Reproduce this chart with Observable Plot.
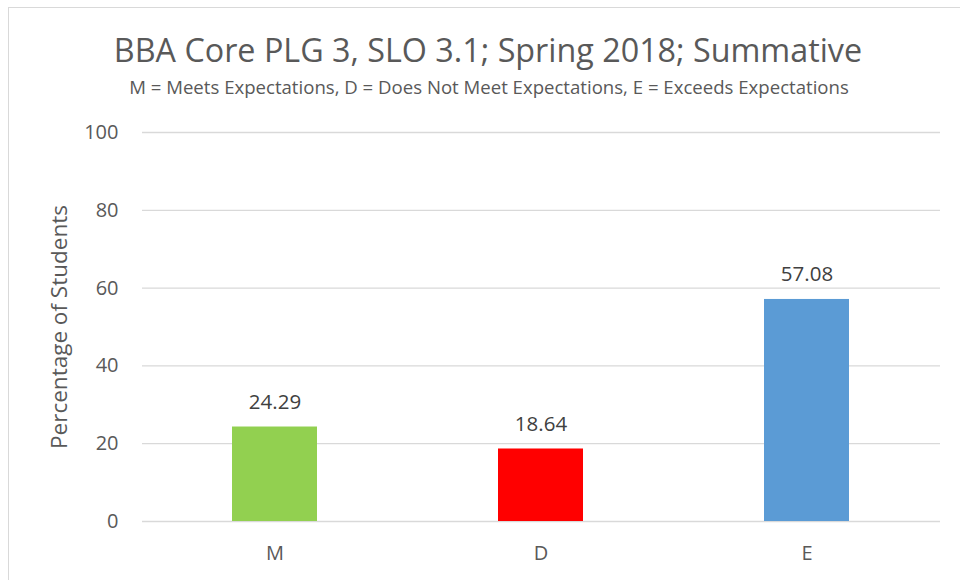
<!DOCTYPE html>
<html>
<head>
<meta charset="utf-8">
<script src="https://cdn.jsdelivr.net/npm/d3@7"></script>
<script src="https://cdn.jsdelivr.net/npm/@observablehq/plot@0.6"></script>
<style>
  html, body { margin: 0; padding: 0; background: #fff; }
  #wrap { position: relative; width: 960px; height: 580px; overflow: hidden; font-family: "Open Sans", sans-serif; }
  #frame { position: absolute; left: 8px; top: 7px; width: 1000px; height: 1000px; border-left: 1.5px solid #d9d9d9; border-top: 1.5px solid #d9d9d9; }
  #title { position: absolute; left: 0; width: 976px; top: 27px; text-align: center; font-size: 32.3px; line-height: normal; color: #595959; white-space: nowrap; }
  #subtitle { position: absolute; left: 0; width: 978px; top: 74px; text-align: center; font-size: 18.6px; line-height: normal; color: #595959; white-space: nowrap; }
  #chart { position: absolute; left: 0; top: 0; }
</style>
</head>
<body>
<div id="wrap">
  <div id="frame"></div>
  <div id="chart"></div>
  <div id="title">BBA Core PLG 3, SLO 3.1; Spring 2018; Summative</div>
  <div id="subtitle">M = Meets Expectations, D = Does Not Meet Expectations, E = Exceeds Expectations</div>
</div>
<script>
const categories = ["M", "D", "E"];
const values = [24.29, 18.64, 57.08];
const colors = ["#92D050", "#FF0000", "#5B9BD5"];
const yTicks = [0, 20, 40, 60, 80, 100];
const yLabel = "Percentage of Students";

const data = categories.map((c, i) => ({cat: c, value: values[i], color: colors[i]}));

const chart = Plot.plot({
  width: 960,
  height: 580,
  marginTop: 132,
  marginBottom: 59,
  marginLeft: 142,
  marginRight: 20,
  style: {fontFamily: "'Open Sans', sans-serif", fontSize: "20px", color: "#595959", background: "transparent"},
  x: {domain: categories, paddingInner: 0.68, paddingOuter: 0.34, label: null},
  y: {domain: [0, 100], label: null},
  marks: [
    Plot.gridY(yTicks, {stroke: "#d9d9d9", strokeOpacity: 1, strokeWidth: 1.3}),
    Plot.barY(data, {x: "cat", y: "value", fill: "color"}),
    Plot.text(data, {x: "cat", y: "value", text: d => d.value.toFixed(2), dy: -25, fontSize: 20.5, fill: "#404040"}),
    Plot.axisY({ticks: yTicks, tickSize: 0, tickPadding: 24, fontSize: 20, label: null, fill: "#595959"}),
    Plot.axisX({tickSize: 0, tickPadding: 24, fontSize: 20, label: null, fill: "#595959"}),
    Plot.text([yLabel], {frameAnchor: "left", textAnchor: "middle", dx: -83, rotate: -90, text: d => d, fontSize: 22.5, fill: "#595959"})
  ]
});
document.getElementById("chart").appendChild(chart);
</script>
</body>
</html>
